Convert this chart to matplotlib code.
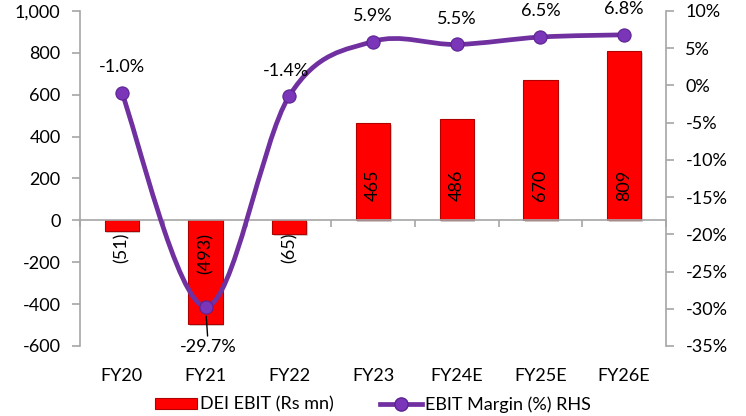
import numpy as np
import matplotlib
matplotlib.use("Agg")
import matplotlib.pyplot as plt
from matplotlib.path import Path
from matplotlib.patches import PathPatch, Patch
from matplotlib.lines import Line2D
from matplotlib.ticker import FuncFormatter
import matplotlib.transforms as mtransforms

plt.rcParams['font.family'] = ['Lato', 'DejaVu Sans']

categories = ["FY20", "FY21", "FY22", "FY23", "FY24E", "FY25E", "FY26E"]
ebit = [-51, -493, -65, 465, 486, 670, 809]
margin = [-1.0, -29.7, -1.4, 5.9, 5.5, 6.5, 6.8]

BAR_RED = "#FF0000"
BAR_EDGE = "#B00000"
PURPLE = "#7030A0"
GREY = "#A6A6A6"
FS = 13

fig = plt.figure(figsize=(7.46, 4.16), dpi=100)
ax = fig.add_axes([0.1072, 0.1683, 0.7856, 0.8053])
ax2 = ax.twinx()

x = np.arange(len(categories))

# bars with a faint drop shadow
shadow = mtransforms.offset_copy(ax.transData, fig=fig, x=1.5, y=-2.0, units='dots')
ax.bar(x, ebit, width=0.41, color="#000000", alpha=0.18, transform=shadow, zorder=1)
ax.bar(x, ebit, width=0.41, color=BAR_RED, edgecolor=BAR_EDGE, linewidth=0.8, zorder=2)

for xi, v in zip(x, ebit):
    txt = f"{v:,}" if v >= 0 else f"({abs(v):,})"
    if v >= 0:
        ax.annotate(txt, (xi, 0), xytext=(0, 14), textcoords='offset points',
                    rotation=90, ha='center', va='bottom', fontsize=FS, zorder=5)
    else:
        ax.annotate(txt, (xi, 0), xytext=(0, -9), textcoords='offset points',
                    rotation=90, ha='center', va='top', fontsize=FS, zorder=5)

ax.set_ylim(-600, 1000)
ax.set_yticks(np.arange(-600, 1001, 200))
ax.yaxis.set_major_formatter(FuncFormatter(lambda v, p: f"{int(v):,}"))
ax.set_xlim(-0.5, len(categories) - 0.5)

# category axis crossing at zero with boundary tick marks
ax.spines['bottom'].set_position(('data', 0))
ax.set_xticks(np.arange(-0.5, len(categories), 1.0))
ax.set_xticklabels([])
ax.tick_params(axis='x', direction='out', length=5, color=GREY, width=1.2)
lab_tr = mtransforms.blended_transform_factory(ax.transData, ax.transAxes)
for xi, c in zip(x, categories):
    ax.text(xi, -0.09, c, transform=lab_tr, ha='center', va='center', fontsize=FS)

for a in (ax, ax2):
    a.spines['top'].set_visible(False)
for s in ('left', 'bottom'):
    ax.spines[s].set_color(GREY)
    ax.spines[s].set_linewidth(1.2)
ax.spines['right'].set_visible(False)
ax2.spines['left'].set_visible(False)
ax2.spines['bottom'].set_visible(False)
ax2.spines['right'].set_color(GREY)
ax2.spines['right'].set_linewidth(1.2)

ax.tick_params(axis='y', direction='out', length=6, color=GREY, width=1.2,
               labelsize=FS, pad=8)

ax2.set_ylim(-35, 10)
ax2.set_yticks(np.arange(-35, 11, 5))
ax2.yaxis.set_major_formatter(FuncFormatter(lambda v, p: f"{int(v)}%"))
ax2.tick_params(axis='y', direction='out', length=6, color=GREY, width=1.2,
                labelsize=FS, pad=8)

# smoothed margin line (Catmull-Rom as cubic Bezier segments)
pts = np.column_stack([x, margin]).astype(float)
verts = [tuple(pts[0])]
codes = [Path.MOVETO]
n = len(pts)
for i in range(n - 1):
    p0 = pts[i - 1] if i > 0 else pts[i]
    p1 = pts[i]
    p2 = pts[i + 1]
    p3 = pts[i + 2] if i + 2 < n else pts[i + 1]
    c1 = p1 + (p2 - p0) / 6.0
    c2 = p2 - (p3 - p1) / 6.0
    verts += [tuple(c1), tuple(c2), tuple(p2)]
    codes += [Path.CURVE4] * 3
curve = PathPatch(Path(verts, codes), facecolor='none', edgecolor=PURPLE,
                  linewidth=3.4, capstyle='round', joinstyle='round', zorder=6)
ax2.add_patch(curve)
ax2.plot(x, margin, linestyle='none', marker='o', markersize=9.5,
         markerfacecolor="#7A35B8", markeredgecolor="#5B2391",
         markeredgewidth=0.8, zorder=7)

for xi, m in zip(x, margin):
    txt = f"{m:.1f}%"
    if m < -20:
        ax2.annotate(txt, (xi, m), xytext=(2, -29), textcoords='offset points',
                     ha='center', va='center', fontsize=FS, zorder=8,
                     arrowprops=dict(arrowstyle='-', color='black', lw=1.0,
                                     shrinkA=0, shrinkB=7))
    elif xi == 2:
        ax2.annotate(txt, (xi, m), xytext=(-2.5, 18), textcoords='offset points',
                     ha='center', va='center', fontsize=FS, zorder=8)
    else:
        ax2.annotate(txt, (xi, m), xytext=(0, 18.5), textcoords='offset points',
                     ha='center', va='center', fontsize=FS, zorder=8)

ax.set_zorder(ax2.get_zorder() - 1)
ax.patch.set_visible(False)
ax2.patch.set_visible(False)

handles = [
    Patch(facecolor=BAR_RED, edgecolor=BAR_EDGE, linewidth=0.8),
    Line2D([0], [0], color=PURPLE, lw=3.4, marker='o', markersize=9.5,
           markerfacecolor="#7A35B8", markeredgecolor="#5B2391"),
]
fig.legend(handles, ["DEI EBIT (Rs mn)", "EBIT Margin (%) RHS"],
           loc='center', bbox_to_anchor=(0.5, 0.028), ncol=2, frameon=False,
           fontsize=FS, handlelength=2.3, handleheight=0.6, handletextpad=0.15,
           columnspacing=2.6)

fig.savefig("out.png", dpi=100)
